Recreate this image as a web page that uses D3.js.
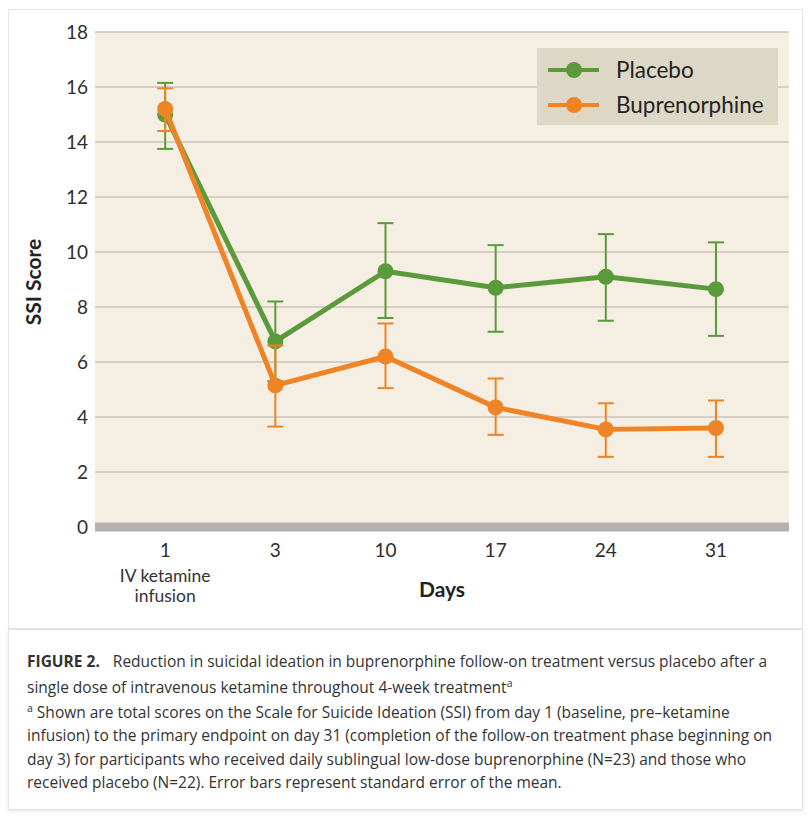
<!DOCTYPE html>
<html>
<head>
<meta charset="utf-8">
<script src="https://cdn.jsdelivr.net/npm/d3@7"></script>
<style>
  body { margin: 0; background: #fff; }
  svg { display: block; }
</style>
</head>
<body>
<div id="graph"></div>
<script>
// values
var days = ['1', '3', '10', '17', '24', '31']
var placebo = [15.0, 6.75, 9.3, 8.7, 9.1, 8.65]
var placeboLo = [13.75, 5.3, 7.6, 7.1, 7.5, 6.95]
var placeboHi = [16.15, 8.2, 11.05, 10.25, 10.65, 10.35]
var bup = [15.2, 5.15, 6.2, 4.35, 3.55, 3.6]
var bupLo = [14.4, 3.65, 5.05, 3.35, 2.55, 2.55]
var bupHi = [15.95, 6.6, 7.4, 5.4, 4.5, 4.6]
var yTicks = [0, 2, 4, 6, 8, 10, 12, 14, 16, 18]
var seriesNames = ['Placebo', 'Buprenorphine']
var seriesColors = ['#5b9a3b', '#ee8426']

var series = [
  {name: seriesNames[0], color: seriesColors[0], mean: placebo, lo: placeboLo, hi: placeboHi},
  {name: seriesNames[1], color: seriesColors[1], mean: bup, lo: bupLo, hi: bupHi}
]

var W = 810, H = 819
var svg = d3.select('#graph').append('svg')
    .attr('width', W).attr('height', H)

// cards
svg.append('rect')
    .attr('x', 8.5).attr('y', 9.5).attr('width', 794).attr('height', 619)
    .attr('fill', '#fff').attr('stroke', '#e6e6e6')

var defs = svg.append('defs')
var f = defs.append('filter').attr('id', 'sh').attr('x', '-5%').attr('y', '-5%').attr('width', '110%').attr('height', '115%')
f.append('feDropShadow').attr('dx', 0).attr('dy', 1).attr('stdDeviation', 1.5).attr('flood-color', '#000').attr('flood-opacity', 0.12)

svg.append('rect')
    .attr('x', 8.5).attr('y', 629.5).attr('width', 794).attr('height', 180)
    .attr('fill', '#fff').attr('stroke', '#e6e6e6')
    .attr('filter', 'url(#sh)')

var pLeft = 95, pRight = 789, pTop = 32, pBottom = 527

var x = d3.scalePoint().domain(days).range([pLeft, pRight]).padding(0.65).align(0.49)
var y = d3.scaleLinear().domain([0, 18]).range([pBottom, pTop])

var g = svg.append('g')

// plot background
g.append('rect')
    .attr('x', pLeft).attr('y', y(18)).attr('width', pRight - pLeft).attr('height', y(0) - y(18))
    .attr('fill', '#f5eee2')

// grid
g.selectAll('line.grid').data(yTicks.filter(function(d){ return d > 0 }))
  .enter().append('line')
    .attr('class', 'grid')
    .attr('x1', pLeft).attr('x2', pRight)
    .attr('y1', function(d){ return y(d) }).attr('y2', function(d){ return y(d) })
    .attr('stroke', '#cbc3ba').attr('stroke-width', 1.5)

// zero baseline bar
g.append('rect')
    .attr('x', pLeft).attr('y', y(0) - 4.5).attr('width', pRight - pLeft).attr('height', 9)
    .attr('fill', '#b6b1ac')

// y tick labels
g.selectAll('text.ytick').data(yTicks)
  .enter().append('text')
    .attr('class', 'ytick')
    .attr('x', 88).attr('y', function(d){ return y(d) })
    .attr('dy', '0.36em')
    .attr('text-anchor', 'end')
    .style('font', '19px Lato, sans-serif')
    .attr('fill', '#2e2e2e')
    .text(function(d){ return d })

// x tick labels
g.selectAll('text.xtick').data(days)
  .enter().append('text')
    .attr('class', 'xtick')
    .attr('x', function(d){ return x(d) }).attr('y', 550)
    .attr('dy', '0.36em')
    .attr('text-anchor', 'middle')
    .style('font', '19px Lato, sans-serif')
    .attr('fill', '#2e2e2e')
    .text(function(d){ return d })

var note = g.append('text')
    .attr('x', x(days[0])).attr('y', 576)
    .attr('text-anchor', 'middle')
    .style('font', '17.5px Lato, sans-serif')
    .attr('fill', '#333')
note.append('tspan').attr('x', x(days[0])).attr('dy', '0.36em').text('IV ketamine')
note.append('tspan').attr('x', x(days[0])).attr('dy', 20).text('infusion')

// axis titles
g.append('text')
    .attr('transform', 'translate(33,282) rotate(-90)')
    .attr('text-anchor', 'middle').attr('dy', '0.36em')
    .style('font', 'bold 21px Lato, sans-serif')
    .attr('fill', '#222')
    .text('SSI Score')

g.append('text')
    .attr('x', 442).attr('y', 589).attr('dy', '0.36em')
    .attr('text-anchor', 'middle')
    .style('font', 'bold 21px Lato, sans-serif')
    .attr('fill', '#222')
    .text('Days')

// series
var line = d3.line()
    .x(function(d){ return x(d.day) })
    .y(function(d){ return y(d.v) })

series.forEach(function(s){
  var pts = days.map(function(d, i){
    return {day: d, v: s.mean[i], lo: s.lo[i], hi: s.hi[i]}
  })
  var sg = g.append('g')

  var eb = sg.selectAll('g.eb').data(pts).enter().append('g')
      .attr('stroke', s.color).attr('stroke-width', 2)
  eb.append('line')
      .attr('x1', function(d){ return x(d.day) }).attr('x2', function(d){ return x(d.day) })
      .attr('y1', function(d){ return y(d.lo) }).attr('y2', function(d){ return y(d.hi) })
  eb.append('line')
      .attr('x1', function(d){ return x(d.day) - 8 }).attr('x2', function(d){ return x(d.day) + 8 })
      .attr('y1', function(d){ return y(d.hi) }).attr('y2', function(d){ return y(d.hi) })
  eb.append('line')
      .attr('x1', function(d){ return x(d.day) - 8 }).attr('x2', function(d){ return x(d.day) + 8 })
      .attr('y1', function(d){ return y(d.lo) }).attr('y2', function(d){ return y(d.lo) })

  sg.append('path')
      .attr('d', line(pts))
      .attr('fill', 'none').attr('stroke', s.color).attr('stroke-width', 5)
      .attr('stroke-linejoin', 'round')

  sg.selectAll('circle').data(pts).enter().append('circle')
      .attr('cx', function(d){ return x(d.day) })
      .attr('cy', function(d){ return y(d.v) })
      .attr('r', 8)
      .attr('fill', s.color)
})

// legend
var lg = g.append('g')
lg.append('rect')
    .attr('x', 537).attr('y', 48).attr('width', 241).attr('height', 77)
    .attr('fill', '#ddd8c6')
var item = lg.selectAll('g.item').data(series).enter().append('g')
    .attr('transform', function(d, i){ return 'translate(548,' + (70 + i * 35) + ')' })
item.append('line')
    .attr('x1', 0).attr('x2', 51)
    .attr('stroke', function(d){ return d.color }).attr('stroke-width', 4)
item.append('circle')
    .attr('cx', 26).attr('r', 8)
    .attr('fill', function(d){ return d.color })
item.append('text')
    .attr('x', 68).attr('dy', '0.36em')
    .style('font', '22.5px Lato, sans-serif')
    .attr('fill', '#222')
    .text(function(d){ return d.name })

// caption
var capFont = '15.5px "Open Sans", sans-serif'
var cap = svg.append('g').style('font', capFont).attr('fill', '#333')
var l1 = cap.append('text').attr('x', 27).attr('y', 667)
l1.append('tspan').attr('font-weight', 'bold').text('FIGURE 2.')
l1.append('tspan').attr('dx', 13).text('Reduction in suicidal ideation in buprenorphine follow-on treatment versus placebo after a')

var l2 = cap.append('text').attr('x', 27).attr('y', 693)
l2.append('tspan').text('single dose of intravenous ketamine throughout 4-week treatment')
l2.append('tspan').attr('dy', -6).style('font-size', '10.5px').text('a')

var l3 = cap.append('text').attr('x', 27).attr('y', 718)
l3.append('tspan').attr('dy', -6).style('font-size', '10.5px').text('a')
l3.append('tspan').attr('dy', 6).text(' Shown are total scores on the Scale for Suicide Ideation (SSI) from day 1 (baseline, pre\u2013ketamine')

var rest = [
  'infusion) to the primary endpoint on day 31 (completion of the follow-on treatment phase beginning on',
  'day 3) for participants who received daily sublingual low-dose buprenorphine (N=23) and those who',
  'received placebo (N=22). Error bars represent standard error of the mean.'
]
cap.selectAll('text.rest').data(rest).enter().append('text')
    .attr('class', 'rest')
    .attr('x', 27).attr('y', function(d, i){ return 741 + i * 23.5 })
    .text(function(d){ return d })
</script>
</body>
</html>
